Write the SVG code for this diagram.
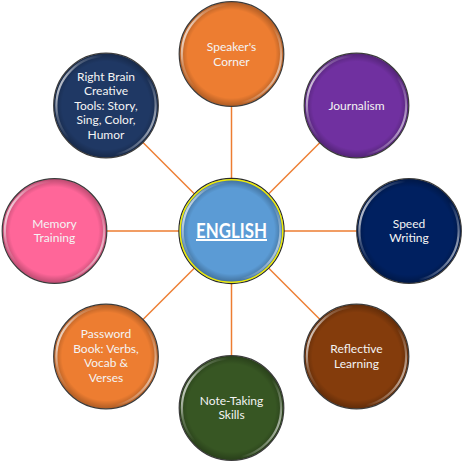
<svg xmlns="http://www.w3.org/2000/svg" width="463" height="462" viewBox="0 0 463 462">
<defs>
<linearGradient id="rim" x1="0" y1="0.3" x2="1" y2="0.7">
<stop offset="0" stop-color="#fff" stop-opacity="0.85"/>
<stop offset="0.12" stop-color="#fff" stop-opacity="0.25"/>
<stop offset="0.3" stop-color="#fff" stop-opacity="0"/>
<stop offset="0.75" stop-color="#fff" stop-opacity="0"/>
<stop offset="0.92" stop-color="#fff" stop-opacity="0.35"/>
<stop offset="1" stop-color="#fff" stop-opacity="0.7"/>
</linearGradient>
<radialGradient id="shade" cx="0.5" cy="0.5" r="0.5">
<stop offset="0.85" stop-color="#000" stop-opacity="0"/>
<stop offset="1" stop-color="#000" stop-opacity="0.25"/>
</radialGradient>
</defs>
<style>
.base{stroke:#3b3b3b;stroke-width:1.2}
.shade{fill:url(#shade)}
.rim{fill:none;stroke:url(#rim);stroke-width:2.2}
.lbl{font-family:Lato,"Open Sans","Liberation Sans",sans-serif;font-size:12px;fill:#f4f4f4;text-anchor:middle}
.conn line{stroke:#ED7D31;stroke-width:1.5}
.title{font-family:Lato,"Open Sans","Liberation Sans",sans-serif;font-size:20px;font-weight:bold;fill:#fff;text-anchor:middle;text-decoration:underline}
</style>
<rect width="463" height="462" fill="#fff"/>
<g id="connectors" class="conn">
<line x1="231.5" y1="231" x2="231.5" y2="54"/>
<line x1="231.5" y1="231" x2="357" y2="105.5"/>
<line x1="231.5" y1="231" x2="409" y2="231"/>
<line x1="231.5" y1="231" x2="357" y2="356.5"/>
<line x1="231.5" y1="231" x2="231.5" y2="408"/>
<line x1="231.5" y1="231" x2="106" y2="356.5"/>
<line x1="231.5" y1="231" x2="54.5" y2="231"/>
<line x1="231.5" y1="231" x2="106" y2="105.5"/>
</g>
<g id="speakers-corner" transform="translate(231.5,54)">
<circle class="base" r="52.3" fill="#ED7D31"/><circle class="shade" r="51.7"/><circle class="rim" r="49.6"/>
<text class="lbl" y="-3">Speaker's</text><text class="lbl" y="11.5">Corner</text>
</g>
<g id="journalism" transform="translate(356.5,105.5)">
<circle class="base" r="52.3" fill="#7030A0"/><circle class="shade" r="51.7"/><circle class="rim" r="49.6"/>
<text class="lbl" y="4.2">Journalism</text>
</g>
<g id="speed-writing" transform="translate(409,231)">
<circle class="base" r="52.3" fill="#002060"/><circle class="shade" r="51.7"/><circle class="rim" r="49.6"/>
<text class="lbl" y="-3.2">Speed</text><text class="lbl" y="11.3">Writing</text>
</g>
<g id="reflective-learning" transform="translate(356.5,356.5)">
<circle class="base" r="52.3" fill="#843C0C"/><circle class="shade" r="51.7"/><circle class="rim" r="49.6"/>
<text class="lbl" y="-3.2">Reflective</text><text class="lbl" y="11.3">Learning</text>
</g>
<g id="note-taking" transform="translate(231.5,408)">
<circle class="base" r="52.3" fill="#375623"/><circle class="shade" r="51.7"/><circle class="rim" r="49.6"/>
<text class="lbl" y="-3.4">Note-Taking</text><text class="lbl" y="11.1">Skills</text>
</g>
<g id="password-book" transform="translate(106,356.5)">
<circle class="base" r="52.3" fill="#ED7D31"/><circle class="shade" r="51.7"/><circle class="rim" r="49.6"/>
<text class="lbl" y="-18.2">Password</text><text class="lbl" y="-3.7">Book: Verbs,</text><text class="lbl" y="10.8">Vocab &amp;</text><text class="lbl" y="25.3">Verses</text>
</g>
<g id="memory-training" transform="translate(54.5,231)">
<circle class="base" r="52.3" fill="#FF6699"/><circle class="shade" r="51.7"/><circle class="rim" r="49.6"/>
<text class="lbl" y="-3.2">Memory</text><text class="lbl" y="11.3">Training</text>
</g>
<g id="right-brain" transform="translate(106,105.5)">
<circle class="base" r="52.3" fill="#1F3864"/><circle class="shade" r="51.7"/><circle class="rim" r="49.6"/>
<text class="lbl" y="-24.8">Right Brain</text><text class="lbl" y="-10.3">Creative</text><text class="lbl" y="4.2">Tools: Story,</text><text class="lbl" y="18.7">Sing, Color,</text><text class="lbl" y="33.2">Humor</text>
</g>
<g id="english" transform="translate(231.5,231)">
<circle r="52.6" fill="#5B9BD5" stroke="#2a2a2a" stroke-width="1.2"/>
<circle r="51.3" fill="none" stroke="#F2EA00" stroke-width="1.5"/>
<circle class="shade" r="50.5"/>
<circle class="rim" r="48.8"/>
<text class="title" y="7" textLength="71" lengthAdjust="spacingAndGlyphs">ENGLISH</text>
</g>
</svg>
